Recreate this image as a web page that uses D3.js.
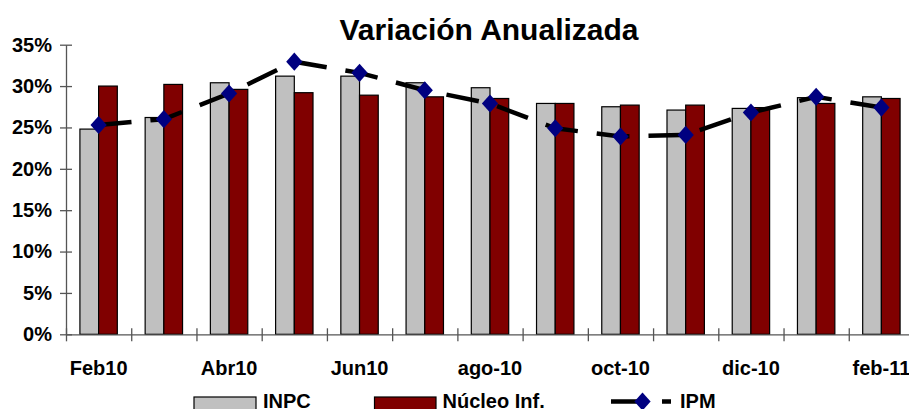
<!DOCTYPE html>
<html>
<head>
<meta charset="utf-8">
<script src="https://cdn.jsdelivr.net/npm/d3@7"></script>
<style>
  html, body { margin: 0; padding: 0; background: #fff; }
  svg { display: block; font-family: "Liberation Sans", Arial, sans-serif; }
</style>
</head>
<body>
<svg id="chart" width="909" height="409"></svg>
<script>
const categories = ["Feb10","Mar10","Abr10","May10","Jun10","Jul10","ago-10","sep-10","oct-10","nov-10","dic-10","ene-11","feb-11"];
const shownLabels = ["Feb10","Abr10","Jun10","ago-10","oct-10","dic-10","feb-11"];
const inpc   = [24.8, 26.2, 30.4, 31.2, 31.2, 30.4, 29.8, 27.9, 27.5, 27.1, 27.3, 28.6, 28.7];
const nucleo = [30.0, 30.2, 29.6, 29.2, 28.9, 28.7, 28.5, 27.9, 27.7, 27.7, 27.4, 27.9, 28.5];
const ipm    = [25.3, 26.0, 29.1, 32.95, 31.6, 29.5, 27.9, 24.9, 23.9, 24.1, 26.8, 28.7, 27.4];
const yTicks = [0, 5, 10, 15, 20, 25, 30, 35];
const seriesNames = ["INPC", "Núcleo Inf.", "IPM"];

(function () {
const svg = d3.select("#chart");
const pLeft = 66, pRight = 914, pTop = 44.7, pBottom = 334.3;
const pad = 0.4267;

const x = d3.scaleBand().domain(categories).range([pLeft, pRight])
  .paddingInner(pad).paddingOuter(pad / 2);
const xSub = d3.scaleBand().domain(["INPC", "Núcleo Inf."]).range([0, x.bandwidth()]);
const xBound = d3.scaleLinear().domain([0, categories.length]).range([pLeft, pRight]);
const y = d3.scaleLinear().domain([0, 35]).range([pBottom, pTop]);

// Title
svg.append("text")
  .attr("x", 489).attr("y", 39.5)
  .attr("text-anchor", "middle")
  .attr("font-size", 30).attr("font-weight", "bold")
  .text("Variación Anualizada");

// Bars
const groups = svg.append("g").selectAll("g")
  .data(categories).join("g")
  .attr("transform", d => `translate(${x(d)},0)`);

groups.append("rect")
  .attr("x", xSub("INPC"))
  .attr("width", xSub.bandwidth())
  .attr("y", (d, i) => y(inpc[i]))
  .attr("height", (d, i) => y(0) - y(inpc[i]))
  .attr("fill", "#C0C0C0").attr("stroke", "#000").attr("stroke-width", 1.2);

groups.append("rect")
  .attr("x", xSub("Núcleo Inf."))
  .attr("width", xSub.bandwidth())
  .attr("y", (d, i) => y(nucleo[i]))
  .attr("height", (d, i) => y(0) - y(nucleo[i]))
  .attr("fill", "#800000").attr("stroke", "#000").attr("stroke-width", 1.2);

// Y axis
const yAxis = svg.append("g")
  .attr("transform", `translate(${pLeft},0)`)
  .call(d3.axisLeft(y).tickValues(yTicks).tickFormat(d => d + "%").tickSizeInner(6).tickSizeOuter(0).tickPadding(8));
yAxis.select(".domain").attr("stroke", "#555").attr("stroke-width", 1.3);
yAxis.selectAll(".tick line").attr("x1", 6).attr("x2", -6).attr("stroke", "#555").attr("stroke-width", 1.3);
yAxis.selectAll(".tick text")
  .attr("font-size", 20).attr("font-weight", "bold").attr("fill", "#000")
  .attr("font-family", "'Liberation Sans', Arial, sans-serif");

// X axis (boundary ticks)
const xAxis = svg.append("g")
  .attr("transform", `translate(0,${pBottom})`)
  .call(d3.axisBottom(xBound).tickValues(d3.range(0, categories.length + 1)).tickFormat("").tickSizeInner(7).tickSizeOuter(0));
xAxis.select(".domain").attr("stroke", "#555").attr("stroke-width", 1.3);
xAxis.selectAll(".tick line").attr("y1", -6).attr("y2", 7).attr("stroke", "#555").attr("stroke-width", 1.3);

// X labels
svg.append("g").selectAll("text")
  .data(shownLabels).join("text")
  .attr("x", d => x(d) + x.bandwidth() / 2)
  .attr("y", pBottom + 40.7)
  .attr("text-anchor", "middle")
  .attr("font-size", 20).attr("font-weight", "bold")
  .text(d => d);

// IPM line
const cx = (d, i) => x(categories[i]) + x.bandwidth() / 2;
const line = d3.line().x((d, i) => cx(d, i)).y(d => y(d));
svg.append("path")
  .datum(ipm)
  .attr("d", line)
  .attr("fill", "none").attr("stroke", "#000").attr("stroke-width", 4.5)
  .attr("stroke-dasharray", "33,19");

const diamond = d3.symbol().type(d3.symbolDiamond).size(95);
svg.append("g").selectAll("path")
  .data(ipm).join("path")
  .attr("d", diamond)
  .attr("transform", (d, i) => `translate(${cx(d, i)},${y(d)}) scale(1.55,1)`)
  .attr("fill", "#000080");

// Legend
const lg = svg.append("g");
lg.append("rect").attr("x", 194).attr("y", 397).attr("width", 62).attr("height", 13)
  .attr("fill", "#C0C0C0").attr("stroke", "#000").attr("stroke-width", 1.2);
lg.append("text").attr("x", 263).attr("y", 408.3).attr("font-size", 20).attr("font-weight", "bold").text(seriesNames[0]);
lg.append("rect").attr("x", 374.5).attr("y", 397).attr("width", 61.5).attr("height", 13)
  .attr("fill", "#800000").attr("stroke", "#000").attr("stroke-width", 1.2);
lg.append("text").attr("x", 442.5).attr("y", 408.3).attr("font-size", 20).attr("font-weight", "bold").text(seriesNames[1]);
lg.append("line").attr("x1", 611).attr("x2", 671).attr("y1", 401.5).attr("y2", 401.5)
  .attr("stroke", "#000").attr("stroke-width", 4.5).attr("stroke-dasharray", "33,18");
lg.append("path").attr("d", diamond)
  .attr("transform", "translate(642.5,401.5) scale(1.55,1)")
  .attr("fill", "#000080");
lg.append("text").attr("x", 680).attr("y", 408.3).attr("font-size", 20).attr("font-weight", "bold").text(seriesNames[2]);
})();
</script>
</body>
</html>
